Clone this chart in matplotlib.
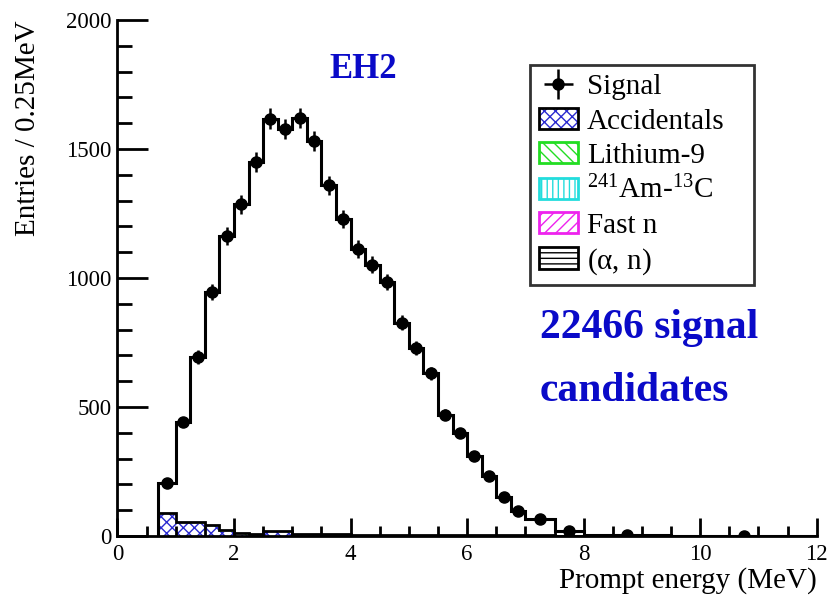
import numpy as np
import matplotlib
matplotlib.use('Agg')
import matplotlib.pyplot as plt
from matplotlib.patches import Patch
from matplotlib.ticker import MultipleLocator

plt.rcParams['font.family'] = ['Liberation Serif', 'DejaVu Serif']
plt.rcParams['mathtext.fontset'] = 'custom'
plt.rcParams['mathtext.rm'] = 'Liberation Serif'
plt.rcParams['mathtext.it'] = 'Liberation Serif:italic'
plt.rcParams['hatch.linewidth'] = 1.0

# bin edges (MeV)
edges = [0.7, 1.0, 1.25, 1.5, 1.75, 2.0, 2.25, 2.5, 2.75, 3.0, 3.25, 3.5, 3.75,
         4.0, 4.25, 4.5, 4.75, 5.0, 5.25, 5.5, 5.75, 6.0, 6.25, 6.5, 6.75,
         7.0, 7.5, 8.0, 9.5, 12.0]

# signal candidates, entries / 0.25 MeV
signal = [206, 442, 694, 945, 1162, 1285, 1450, 1618, 1578, 1620, 1532, 1360,
          1230, 1112, 1051, 985, 826, 729, 630, 470, 398, 310, 233, 153, 97,
          64, 20, 2, 1]

# backgrounds (stacked)
accidentals = [86, 50, 48, 36, 17, 5, 4, 14, 13, 3, 2, 1.5, 1, 1, 0.8, 0.6,
               0.5, 0.4, 0.3, 0.2, 0.2, 0.1, 0.1, 0.1, 0.1, 0.1, 0, 0, 0]
lithium9 = [2, 3, 3, 4, 4, 4, 4, 4, 4, 4, 4, 3.5, 3.5, 3, 3, 3, 3, 2.5, 2.5, 2,
            2, 1.8, 1.5, 1.3, 1, 1, 0.6, 0.2, 0]
amc = [0.3, 0.3, 0.3, 0.3, 0.3, 0.3, 0.2, 0.2, 0.2, 0.2, 0.2, 0.2, 0.2, 0.1,
       0.1, 0.1, 0.1, 0.1, 0.1, 0.1, 0.1, 0.1, 0.1, 0.1, 0.1, 0.1, 0.1, 0, 0]
fastn = [1, 1, 1, 1, 1, 1, 1, 1, 1, 1, 1, 1, 1, 1, 1, 1, 1, 1, 1, 1, 1, 1, 1,
         1, 1, 1, 1, 1, 1]
alphan = [0.1, 0.1, 0.1, 0.1, 0.1, 0.1, 0.1, 0.1, 0.1, 0.1, 0.1, 0.1, 0.1,
          0.1, 0.1, 0.1, 0.1, 0.1, 0.1, 0.1, 0.1, 0.1, 0.1, 0.1, 0.1, 0.1,
          0.1, 0, 0]

edges = np.array(edges)
centers = 0.5 * (edges[:-1] + edges[1:])
halfw = 0.5 * np.diff(edges)
signal = np.array(signal, dtype=float)
err = np.sqrt(signal)

fig = plt.figure(figsize=(8.33, 6), dpi=100)
ax = fig.add_axes([0.141, 0.1067, 0.8395, 0.86])

bkgs = [
    (accidentals, '#2a2ad0', 'xxx'),
    (lithium9, '#22dd22', '\\\\\\'),
    (amc, '#22dddd', '|||'),
    (fastn, '#ee22ee', '///'),
    (alphan, 'black', '---'),
]
base = np.zeros(len(signal))
for vals, hcol, hatch in bkgs:
    vals = np.array(vals, dtype=float)
    top = base + vals
    ax.stairs(top, edges, baseline=base, fill=True, facecolor='none',
              edgecolor=hcol, hatch=hatch, linewidth=0)
    base = top
ax.stairs(base, edges, baseline=0, color='black', linewidth=2)

# signal step + points
ax.stairs(signal, edges, baseline=0, color='black', linewidth=2.2)
eb = ax.errorbar(centers, signal, xerr=halfw, yerr=err, fmt='o', color='black',
                 markersize=8, elinewidth=1.8, capsize=0, label='Signal')

ax.set_xlim(0, 12)
ax.set_ylim(0, 2000)
ax.xaxis.set_major_locator(MultipleLocator(2))
ax.xaxis.set_minor_locator(MultipleLocator(0.5))
ax.yaxis.set_major_locator(MultipleLocator(500))
ax.yaxis.set_minor_locator(MultipleLocator(100))
ax.tick_params(which='both', direction='in', labelsize=16.5, width=2)
ax.tick_params(axis='y', which='major', length=22, pad=4)
ax.tick_params(axis='y', which='minor', length=11)
ax.tick_params(axis='x', which='major', length=13, pad=6)
ax.tick_params(axis='x', which='minor', length=7)
for s in ['top', 'right']:
    ax.spines[s].set_visible(False)
for s in ['left', 'bottom']:
    ax.spines[s].set_linewidth(2)

ax.set_xlabel('Prompt energy (MeV)', fontsize=21, loc='right', labelpad=1)
ax.set_ylabel('Entries / 0.25MeV', fontsize=21, loc='top')
ax.yaxis.set_label_coords(-0.11, 1.0)

ax.text(4.22, 1810, 'EH2', color='#0a0ac8', fontsize=25, fontweight='bold',
        ha='center', va='center')
ax.text(7.25, 683, '22466 signal\ncandidates', color='#0a0ac8', fontsize=30,
        fontweight='bold', ha='left', va='center', linespacing=1.85)

handles = [
    eb,
    (Patch(facecolor='none', edgecolor='#2a2ad0', hatch='xxx', linewidth=0),
     Patch(facecolor='none', edgecolor='black', linewidth=2)),
    Patch(facecolor='none', edgecolor='#22dd22', hatch='\\\\\\', linewidth=2),
    Patch(facecolor='none', edgecolor='#22dddd', hatch='|||', linewidth=2),
    Patch(facecolor='none', edgecolor='#ee22ee', hatch='///', linewidth=2),
    Patch(facecolor='none', edgecolor='black', hatch='---', linewidth=2),
]
labels = ['Signal', 'Accidentals', 'Lithium-9', '$^{241}$Am-$^{13}$C',
          'Fast n', '($\\mathrm{\\alpha}$, n)']
leg = ax.legend(handles, labels, loc='upper left',
                bbox_to_anchor=(0.59, 0.483, 0.32, 0.43), mode='expand',
                fontsize=21, frameon=True, fancybox=False, edgecolor='black',
                handlelength=1.35, handleheight=0.75, labelspacing=0.25,
                handletextpad=0.3, borderpad=0.3, borderaxespad=0)
leg.get_frame().set_linewidth(2)

fig.savefig('out.png', dpi=100)
